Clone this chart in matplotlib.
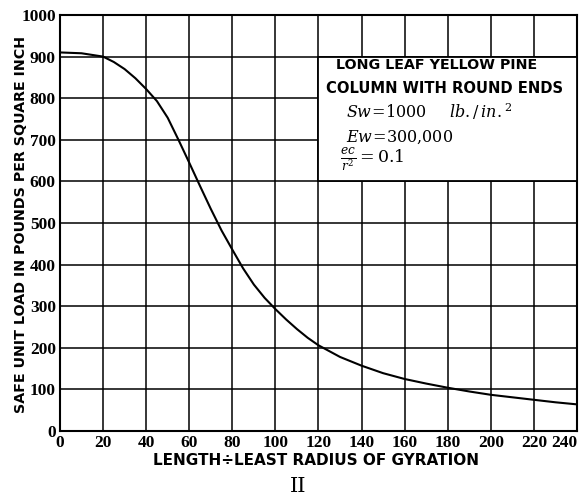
import matplotlib.pyplot as plt
from matplotlib.patches import Rectangle

# values
ratio = [0, 10, 20, 25, 30, 35, 40, 45, 50, 55, 60, 65, 70, 75, 80, 85, 90,
         95, 100, 105, 110, 115, 120, 130, 140, 150, 160, 170, 180, 190, 200,
         210, 220, 230, 240]
load = [910, 908, 900, 887, 870, 848, 822, 793, 753, 700, 645, 589, 534, 482,
        436, 391, 352, 320, 293, 268, 245, 224, 206, 178, 157, 139, 125, 114,
        104, 95, 87, 81, 75, 69, 64]

x_ticks = list(range(0, 241, 20))
y_ticks = list(range(0, 1001, 100))

plt.rcParams['mathtext.fontset'] = 'dejavuserif'

fig = plt.figure(figsize=(5.84, 4.95), dpi=100)
ax = fig.add_axes([0.1027, 0.1293, 0.8853, 0.8404])

ax.set_xlim(0, 240)
ax.set_ylim(0, 1000)
ax.set_xticks(x_ticks)
ax.set_yticks(y_ticks)
ax.grid(color='black', linewidth=1.1)
ax.set_axisbelow(True)
ax.tick_params(length=0, pad=3)
for lab in ax.get_xticklabels() + ax.get_yticklabels():
    lab.set_family('Liberation Serif')
    lab.set_fontsize(12.5)
    lab.set_fontweight('bold')
ax.get_xticklabels()[-1].set_ha('right')
for s in ax.spines.values():
    s.set_linewidth(1.5)

ax.plot(ratio, load, color='black', linewidth=1.5, zorder=3)

# white box with the legend text, covers the grid
ax.add_patch(Rectangle((120, 600), 120, 300, facecolor='white',
                       edgecolor='black', linewidth=1.3, zorder=4))
ax.text(175, 879, 'LONG LEAF YELLOW PINE', ha='center', va='center',
        fontsize=10.3, fontweight='bold', family='DejaVu Sans', zorder=5)
ax.text(178.5, 824, 'COLUMN WITH ROUND ENDS', ha='center', va='center',
        fontsize=10.6, fontweight='bold', family='DejaVu Sans', zorder=5)
ax.text(133, 767, r'$Sw\!=\!1000\quad\;\; lb./\,in.^2$', ha='left',
        va='center', fontsize=11.5, zorder=5)
ax.text(133, 707, r'$Ew\!=\!300{,}000$', ha='left', va='center',
        fontsize=11.5, zorder=5)
ax.text(130, 651, r'$\frac{ec}{r^2}=0.1$', ha='left', va='center',
        fontsize=12.5, zorder=5)

ax.set_ylabel('SAFE UNIT LOAD IN POUNDS PER SQUARE INCH', fontsize=10.3,
              fontweight='bold', family='DejaVu Sans', va='center', ha='center')
ax.yaxis.set_label_coords(-0.0745, 0.496)
ax.set_xlabel('LENGTH÷LEAST RADIUS OF GYRATION', fontsize=11,
              fontweight='bold', family='DejaVu Sans', va='center', ha='center')
ax.xaxis.set_label_coords(0.495, -0.07)

fig.text(0.51, 0.018, 'II', ha='center', va='center', fontsize=15,
         family='DejaVu Serif')

fig.savefig('out.png', dpi=100)
